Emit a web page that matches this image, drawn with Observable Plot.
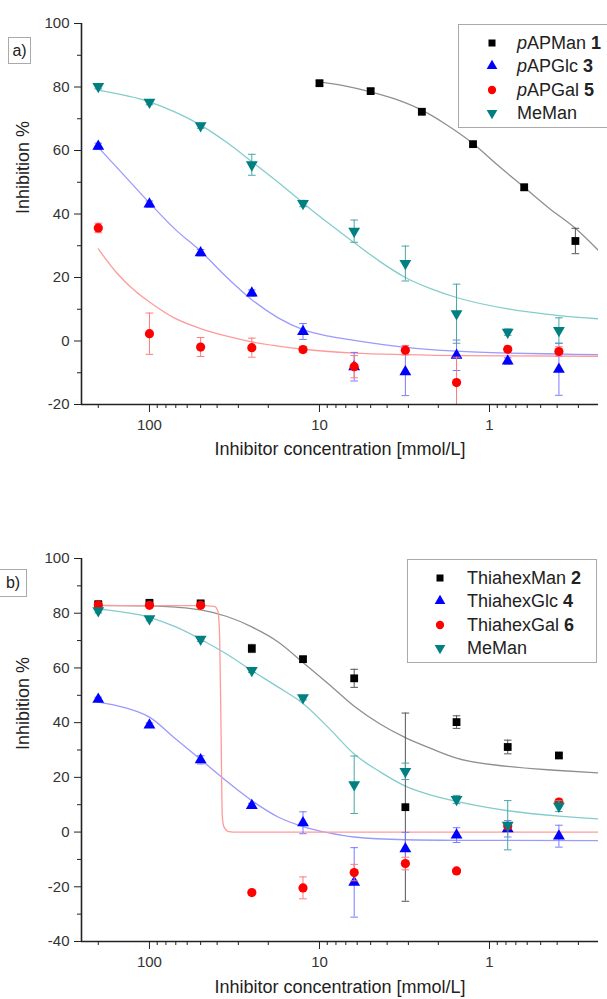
<!DOCTYPE html>
<html>
<head>
<meta charset="utf-8">
<script src="https://cdn.jsdelivr.net/npm/d3@7"></script>
<script src="https://cdn.jsdelivr.net/npm/@observablehq/plot@0.6"></script>
<style>
  html, body { margin: 0; padding: 0; background: #fff; }
  body { width: 607px; height: 999px; overflow: hidden; font-family: "Liberation Sans", Arial, sans-serif; color: #222; }
  #wrap { position: relative; width: 607px; height: 999px; }
  #wrap svg { display: block; }
  .legend { position: absolute; border: 1px solid #aaa; background: #fff; box-sizing: border-box; }
  .lrow { position: absolute; height: 22px; line-height: 22px; font-size: 18px; white-space: nowrap; }
  .lrow svg { position: absolute; top: 0; }
  .lrow span { position: absolute; }
  .tag { position: absolute; border: 1px solid #aaa; background: #fff; font-size: 16px; text-align: center; box-sizing: border-box; }
</style>
</head>
<body>
<div id="wrap"></div>
<script>
// ---------- data ----------
const xDomain = [251, 0.2285];
const xMajor = [100, 10, 1];
const xMinor = [200, 90, 80, 70, 60, 50, 40, 30, 20, 9, 8, 7, 6, 5, 4, 3, 2, 0.9, 0.8, 0.7, 0.6, 0.5, 0.4, 0.3];
const yDomainA = [-20, 100];
const yMajorA = [-20, 0, 20, 40, 60, 80, 100];
const yMinorA = [-10, 10, 30, 50, 70, 90];
const yDomainB = [-40, 100];
const yMajorB = [-40, -20, 0, 20, 40, 60, 80, 100];
const yMinorB = [-30, -10, 10, 30, 50, 70, 90];

const conc = [200, 100, 50, 25, 12.5, 6.25, 3.125, 1.5625, 0.78125, 0.390625];
const concMan1 = [10, 5, 2.5, 1.25, 0.625, 0.3125];

// panel a
const pAPMan1 = [81.2, 78.7, 72.2, 62.0, 48.4, 31.5];
const pAPMan1Err = [0.8, 0.8, 0.8, 0.8, 1.0, 4.0];
const pAPGlc3 = [61.3, 43.1, 27.8, 15.1, 3.0, -8.1, -9.7, -4.5, -6.3, -8.9];
const pAPGlc3Err = [1.0, 1.0, 1.0, 1.0, 2.5, 4.5, 7.5, 4.8, 1.0, 8.2];
const pAPGal5 = [35.6, 2.3, -1.9, -2.1, -2.7, -8.1, -2.9, -13.1, -2.6, -3.3];
const pAPGal5Err = [1.5, 6.5, 3.0, 3.0, 1.0, 3.5, 1.5, 8.0, 1.0, 1.5];
const meManA = [80.2, 75.2, 67.8, 55.5, 43.3, 34.6, 24.4, 8.6, 2.8, 3.3];
const meManAErr = [0.8, 0.8, 0.8, 3.3, 1.0, 3.5, 5.5, 9.3, 1.0, 4.0];

// fitted curves, panel a
const fitA1x = [10, 7, 5, 3.5, 2.5, 1.8, 1.25, 0.9, 0.625, 0.45, 0.3125, 0.2285];
const fitA1y = [81.6, 80.3, 78.5, 76, 72.7, 68.2, 62.2, 55.5, 48.4, 42, 35.5, 28.5];
const fitA3x = [200, 140, 100, 70, 50, 35, 25, 17.5, 12.5, 8.8, 6.25, 3.125, 1.5625, 0.78, 0.39, 0.2285];
const fitA3y = [61, 52, 43.5, 35, 28.3, 20, 13, 7.3, 3.6, 1.5, 0.2, -2, -3.2, -3.8, -4.1, -4.3];
const fitA5x = [200, 156, 120, 100, 71, 50, 35, 25, 17.5, 12.5, 6.25, 3.125, 1.5625, 0.2285];
const fitA5y = [29, 21.5, 15.5, 12.3, 7.2, 3.9, 1.5, -0.3, -1.6, -2.6, -3.8, -4.3, -4.6, -4.8];
const fitAMx = [200, 100, 70, 50, 35, 25, 17.5, 12.5, 8.8, 6.25, 4.4, 3.125, 2.2, 1.5625, 0.78, 0.39, 0.2285];
const fitAMy = [79, 75.3, 72, 68, 62.5, 56.5, 50, 43.5, 37, 31, 25, 20, 16.4, 13.7, 10.1, 8, 7];

// panel b
const thiaMan2 = [83.3, 83.8, 83.6, 67.1, 63.2, 56.2, 9.1, 40.2, 31.1, 28.0];
const thiaMan2Err = [0.8, 0.8, 0.8, 1.5, 1.0, 3.3, 34.4, 2.3, 2.5, 0.8];
const thiaGlc4 = [48.5, 39.1, 26.4, 9.7, 3.4, -18.4, -6.1, -1.1, 1.2, -1.5];
const thiaGlc4Err = [0.8, 0.8, 1.5, 0.8, 4.0, 12.7, 6.0, 2.7, 3.0, 4.0];
const thiaGal6 = [83.0, 82.9, 82.9, -22.1, -20.4, -14.8, -11.5, -14.2, 2.2, 11.0];
const thiaGal6Err = [0.5, 0.5, 0.5, 0.8, 4.0, 3.0, 2.3, 0.8, 1.0, 1.0];
const meManB = [80.9, 78.0, 70.5, 59.1, 49.1, 17.3, 22.2, 11.9, 2.5, 9.5];
const meManBErr = [0.8, 0.8, 0.8, 0.8, 0.8, 10.5, 3.0, 1.5, 9.0, 2.0];

const fitB2x = [200, 100, 70, 50, 35, 25, 17.5, 12.5, 8.8, 6.25, 4.4, 3.125, 2.2, 1.5625, 0.78, 0.39, 0.2285];
const fitB2y = [82.9, 82.7, 82.2, 81.2, 78.8, 75, 69.5, 62, 54, 46, 39.5, 34.5, 30.5, 27, 24, 22.5, 21.6];
const fitB4x = [200, 140, 100, 70, 50, 35, 25, 17.5, 12.5, 8.8, 6.25, 3.125, 1.5625, 0.2285];
const fitB4y = [47.5, 45.5, 42, 34, 26.5, 18.5, 11.5, 5.5, 2, -0.3, -1.8, -2.8, -3.0, -3.1];
const fitB6x = [200, 100, 50, 41.5, 39.5, 38.6, 37.8, 37.3, 36.5, 34.2, 30, 10, 1, 0.2285];
const fitB6y = [82.8, 82.8, 82.8, 82.5, 80.5, 70, 30, 6, 2, 0.2, 0, 0, 0, 0];
const fitBMx = [200, 100, 70, 50, 35, 25, 17.5, 12.5, 8.8, 6.25, 4.4, 3.125, 2.2, 1.5625, 0.78, 0.39, 0.2285];
const fitBMy = [81.5, 78.5, 75, 70.5, 65, 59, 53, 47, 38, 28.5, 22, 16.8, 13.5, 11.2, 7.8, 5.8, 4.8];

// ---------- helpers ----------
const rows = (xs, ys, es) => xs.map((x, i) => ({x, y: ys[i], e: es ? es[i] : 0}));
const capSym = {draw(ctx, size) { const r = Math.sqrt(size / Math.PI); ctx.moveTo(-r, 0); ctx.lineTo(r, 0); }};

const styles = {
  black: {marker: "#000000", fit: "#8f8f8f", err: "#555555", symbol: "square", r: 4.4, rotate: 0},
  blue:  {marker: "#0000ff", fit: "#9a9aff", err: "#7a7aff", symbol: "triangle", r: 4.4, rotate: 0},
  red:   {marker: "#ff0000", fit: "#ff9a9a", err: "#ff7a7a", symbol: "circle", r: 4.6, rotate: 0},
  teal:  {marker: "#008080", fit: "#84cccc", err: "#4aa6a6", symbol: "triangle", r: 4.4, rotate: 180}
};

function seriesMarks(data, st) {
  const withErr = data.filter(d => d.e > 0);
  return [
    Plot.ruleX(withErr, {x: "x", y1: d => d.y - d.e, y2: d => d.y + d.e, stroke: st.err, strokeWidth: 1, clip: true}),
    Plot.dot(withErr, {x: "x", y: d => d.y + d.e, symbol: capSym, r: 3.8, stroke: st.err, fill: "none", strokeWidth: 1, clip: true}),
    Plot.dot(withErr, {x: "x", y: d => d.y - d.e, symbol: capSym, r: 3.8, stroke: st.err, fill: "none", strokeWidth: 1, clip: true}),
    Plot.dot(data, {x: "x", y: "y", symbol: st.symbol, r: st.r, rotate: st.rotate, fill: st.marker, stroke: "none", clip: true})
  ];
}
function fitMark(xs, ys, st) {
  return Plot.line(rows(xs, ys), {x: "x", y: "y", stroke: st.fit, strokeWidth: 1.3, curve: "monotone-x", clip: true});
}

function panel({height, marginTop, marginBottom, titleDy, yDomain, yMajor, yMinor, fits, series}) {
  return Plot.plot({
    width: 607, height, marginLeft: 81, marginRight: 9, marginTop, marginBottom,
    style: {fontFamily: "'Liberation Sans', Arial, sans-serif", fontSize: "15px", background: "#fff", color: "#333"},
    x: {type: "log", domain: xDomain},
    y: {domain: yDomain},
    marks: [
      ...fits,
      ...series,
      Plot.axisX(xMinor, {tickSize: 4, tickFormat: () => "", label: null, stroke: "#222"}),
      Plot.axisX(xMajor, {tickSize: 8, tickPadding: 7, tickFormat: d => String(d), label: null, stroke: "#222", fill: "#333", fontSize: 15}),
      Plot.axisY(yMinor, {tickSize: 4, tickFormat: () => "", label: null, stroke: "#222"}),
      Plot.axisY(yMajor, {tickSize: 7, tickPadding: 5, tickFormat: d => String(d), label: null, stroke: "#222", fill: "#333", fontSize: 15}),
      Plot.ruleX([xDomain[0]], {stroke: "#222", strokeWidth: 1.6}),
      Plot.ruleY([yDomain[0]], {stroke: "#222", strokeWidth: 1.6}),
      Plot.text(["Inhibitor concentration [mmol/L]"], {frameAnchor: "bottom", dy: titleDy, fontSize: 18, fill: "#222"}),
      Plot.text(["Inhibition %"], {frameAnchor: "left", dx: -58, rotate: -90, fontSize: 18, fill: "#222"})
    ]
  });
}

const S = styles;
const plotA = panel({
  height: 470, marginTop: 23, marginBottom: 66, titleDy: 50,
  yDomain: yDomainA, yMajor: yMajorA, yMinor: yMinorA,
  fits: [fitMark(fitA1x, fitA1y, S.black), fitMark(fitA3x, fitA3y, S.blue), fitMark(fitA5x, fitA5y, S.red), fitMark(fitAMx, fitAMy, S.teal)],
  series: [
    ...seriesMarks(rows(concMan1, pAPMan1, pAPMan1Err), S.black),
    ...seriesMarks(rows(conc, pAPGlc3, pAPGlc3Err), S.blue),
    ...seriesMarks(rows(conc, pAPGal5, pAPGal5Err), S.red),
    ...seriesMarks(rows(conc, meManA, meManAErr), S.teal)
  ]
});
const plotB = panel({
  height: 529, marginTop: 88, marginBottom: 58, titleDy: 51,
  yDomain: yDomainB, yMajor: yMajorB, yMinor: yMinorB,
  fits: [fitMark(fitB2x, fitB2y, S.black), fitMark(fitB4x, fitB4y, S.blue), fitMark(fitB6x, fitB6y, S.red), fitMark(fitBMx, fitBMy, S.teal)],
  series: [
    ...seriesMarks(rows(conc, thiaMan2, thiaMan2Err), S.black),
    ...seriesMarks(rows(conc, thiaGlc4, thiaGlc4Err), S.blue),
    ...seriesMarks(rows(conc, thiaGal6, thiaGal6Err), S.red),
    ...seriesMarks(rows(conc, meManB, meManBErr), S.teal)
  ]
});

const wrap = document.getElementById("wrap");
wrap.appendChild(plotA);
wrap.appendChild(plotB);

// ---------- legends & panel tags ----------
const legendA = [
  {html: "<i>p</i>APMan <b>1</b>", st: S.black},
  {html: "<i>p</i>APGlc <b>3</b>", st: S.blue},
  {html: "<i>p</i>APGal <b>5</b>", st: S.red},
  {html: "MeMan", st: S.teal}
];
const legendB = [
  {html: "ThiahexMan <b>2</b>", st: S.black},
  {html: "ThiahexGlc <b>4</b>", st: S.blue},
  {html: "ThiahexGal <b>6</b>", st: S.red},
  {html: "MeMan", st: S.teal}
];

function symbolPath(st) {
  const sym = {square: d3.symbolSquare, triangle: d3.symbolTriangle, circle: d3.symbolCircle}[st.symbol];
  const r = st.r * 0.9;
  return d3.symbol(sym, Math.PI * r * r)();
}
function legend(items, box, markerX, textX, firstRow, step) {
  const div = document.createElement("div");
  div.className = "legend";
  Object.assign(div.style, {left: box.left + "px", top: box.top + "px", width: box.width + "px", height: box.height + "px"});
  wrap.appendChild(div);
  items.forEach((it, i) => {
    const cy = firstRow + i * step;
    const row = document.createElement("div");
    row.className = "lrow";
    Object.assign(row.style, {left: "0px", top: (cy - 11) + "px", width: "300px"});
    row.innerHTML =
      `<svg width="22" height="22" style="left:${markerX - 11}px" viewBox="-11 -11 22 22"><path d="${symbolPath(it.st)}" fill="${it.st.marker}" transform="rotate(${it.st.rotate})"/></svg>` +
      `<span style="left:${textX}px">${it.html}</span>`;
    wrap.appendChild(row);
  });
}
legend(legendA, {left: 458, top: 24, width: 170, height: 104}, 492, 517, 43, 23.3);
legend(legendB, {left: 407, top: 559, width: 190, height: 104}, 440, 467, 578, 23.3);

function tag(text, left, top, w, h) {
  const d = document.createElement("div");
  d.className = "tag";
  d.textContent = text;
  Object.assign(d.style, {left: left + "px", top: top + "px", width: w + "px", height: h + "px", lineHeight: (h - 2) + "px"});
  wrap.appendChild(d);
}
tag("a)", 8, 37, 23, 27);
tag("b)", -1, 569, 28, 28);
</script>
</body>
</html>
